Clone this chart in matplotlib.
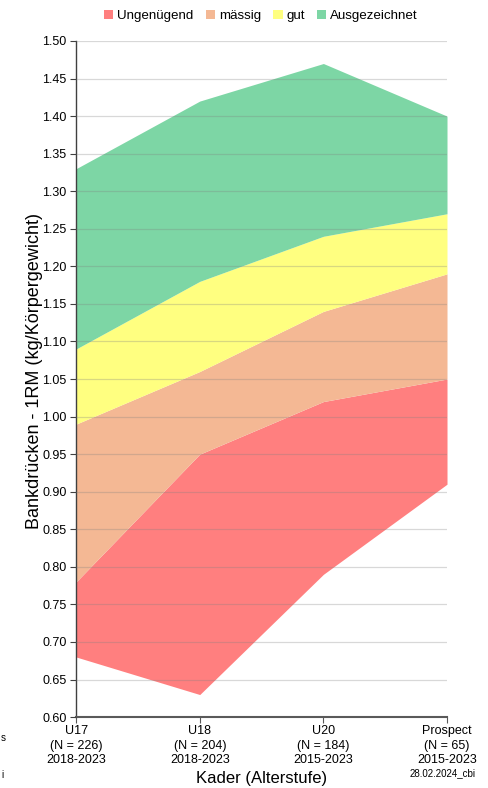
import matplotlib
matplotlib.use("Agg")
import matplotlib.pyplot as plt
from matplotlib.patches import Patch
import numpy as np

plt.rcParams['font.family'] = ['Liberation Sans', 'DejaVu Sans']

categories = ["U17\n(N = 226)\n2018-2023", "U18\n(N = 204)\n2018-2023",
              "U20\n(N = 184)\n2015-2023", "Prospect\n(N = 65)\n2015-2023"]
lower = [0.68, 0.63, 0.79, 0.91]
ungenuegend_top = [0.78, 0.95, 1.02, 1.05]
maessig_top = [0.99, 1.06, 1.14, 1.19]
gut_top = [1.09, 1.18, 1.24, 1.27]
ausgezeichnet_top = [1.33, 1.42, 1.47, 1.40]

names = ["Ungenügend", "mässig", "gut", "Ausgezeichnet"]
colors = ["#FF7F7F", "#F4B894", "#FFFF80", "#7DD6A5"]

fig = plt.figure(figsize=(4.88, 7.88), dpi=100)
ax = fig.add_axes([0.156, 0.090, 0.760, 0.858])

x = np.arange(len(categories))
bounds = [lower, ungenuegend_top, maessig_top, gut_top, ausgezeichnet_top]
for i in range(4):
    ax.fill_between(x, bounds[i], bounds[i + 1], color=colors[i], linewidth=0, zorder=1)

ax.set_xlim(0, len(categories) - 1)
ax.set_ylim(0.60, 1.50)
ax.set_yticks(np.arange(0.60, 1.501, 0.05))
ax.set_yticklabels([f"{v:.2f}" for v in np.arange(0.60, 1.501, 0.05)], fontsize=9)
ax.set_xticks(x)
ax.set_xticklabels(categories, fontsize=9, linespacing=1.25)
ax.yaxis.grid(True, color="#808080", alpha=0.3, linewidth=0.9, zorder=2)
ax.set_axisbelow(False)
for s in ["top", "right"]:
    ax.spines[s].set_visible(False)
ax.spines["left"].set_color("#404040")
ax.spines["bottom"].set_color("#595959")
ax.spines["left"].set_linewidth(1.0)
ax.spines["bottom"].set_linewidth(1.5)
ax.tick_params(axis="y", length=4, color="#404040", pad=3)
ax.tick_params(axis="x", length=4, color="#595959", pad=2)

ax.set_ylabel("Bankdrücken - 1RM (kg/Körpergewicht)", fontsize=13)
ax.yaxis.set_label_coords(-0.088, 0.512)
ax.set_xlabel("Kader (Alterstufe)", fontsize=12, labelpad=4)

handles = [Patch(facecolor=c, edgecolor="none") for c in colors]
fig.legend(handles, names, loc="center", bbox_to_anchor=(0.535, 0.980), ncol=4,
           frameon=False, fontsize=9.6, handlelength=0.7, handleheight=0.7,
           handletextpad=0.3, columnspacing=0.9)

fig.text(0.975, 0.012, "28.02.2024_cbi", fontsize=7, ha="right", va="bottom")
fig.text(0.002, 0.064, "s", fontsize=7, ha="left", va="center")
fig.text(0.002, 0.016, "i", fontsize=7, ha="left", va="center")

fig.savefig("out.png", dpi=100)
